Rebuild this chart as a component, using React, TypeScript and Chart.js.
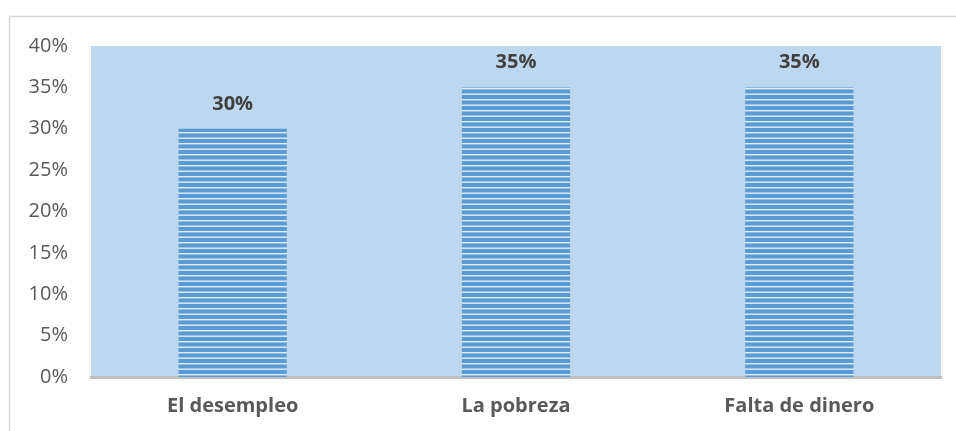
import React, { useEffect, useRef } from "react";
import { Chart, registerables } from "chart.js";

Chart.register(...registerables);

const categories = ["El desempleo", "La pobreza", "Falta de dinero"];
const values = [0.3, 0.35, 0.35];
const labels = ["30%", "35%", "35%"];
const yTicks = ["0%", "5%", "10%", "15%", "20%", "25%", "30%", "35%", "40%"];

function makePattern(): CanvasPattern | string {
  const c = document.createElement("canvas");
  c.width = 4;
  c.height = 11;
  const g = c.getContext("2d");
  if (!g) return "#5B9BD5";
  g.fillStyle = "#5B9BD5";
  g.fillRect(0, 0, 4, 11);
  g.fillStyle = "#E2EDF8";
  g.fillRect(0, 0, 4, 1.4);
  g.fillRect(0, 5.5, 4, 1.4);
  const p = g.createPattern(c, "repeat");
  return p || "#5B9BD5";
}

const bgPlugin = {
  id: "bgPlugin",
  beforeDraw(chart: any) {
    const { ctx, chartArea } = chart;
    ctx.save();
    ctx.fillStyle = "#ffffff";
    ctx.fillRect(0, 0, chart.width, chart.height);
    ctx.strokeStyle = "#D9D9D9";
    ctx.lineWidth = 1.5;
    ctx.beginPath();
    ctx.moveTo(9.5, chart.height);
    ctx.lineTo(9.5, 16.5);
    ctx.lineTo(chart.width, 16.5);
    ctx.stroke();
    ctx.fillStyle = "#BDD7EE";
    ctx.fillRect(chartArea.left, chartArea.top, chartArea.right - chartArea.left, chartArea.bottom - chartArea.top);
    ctx.restore();
  },
};

const labelPlugin = {
  id: "labelPlugin",
  afterDatasetsDraw(chart: any) {
    const { ctx } = chart;
    const meta = chart.getDatasetMeta(0);
    ctx.save();
    ctx.font = "bold 20px 'Open Sans'";
    ctx.fillStyle = "#404040";
    ctx.textAlign = "center";
    ctx.textBaseline = "alphabetic";
    meta.data.forEach((bar: any, i: number) => {
      ctx.fillText(labels[i], bar.x, bar.y - 19);
    });
    ctx.restore();
  },
};

export default function App() {
  const ref = useRef<HTMLCanvasElement>(null);
  useEffect(() => {
    document.body.style.margin = "0";
    if (!ref.current) return;
    const chart = new Chart(ref.current, {
      type: "bar",
      data: {
        labels: categories,
        datasets: [
          {
            data: values,
            backgroundColor: makePattern() as any,
            borderWidth: 0,
            categoryPercentage: 1,
            barPercentage: 0.382,
          },
        ],
      },
      options: {
        animation: false,
        responsive: false,
        maintainAspectRatio: false,
        layout: { padding: { left: 0, right: 15, top: 46, bottom: 0 } },
        plugins: { legend: { display: false }, tooltip: { enabled: false }, title: { display: false } },
        scales: {
          x: {
            grid: { display: false, drawTicks: false },
            border: { display: true, color: "#BFBFBF", width: 3 },
            ticks: {
              color: "#595959",
              font: { family: "'Open Sans'", size: 20, weight: "bold" },
              padding: 17,
              maxRotation: 0,
            },
            afterFit: (s: any) => {
              s.height = 54;
            },
          },
          y: {
            min: 0,
            max: 0.4,
            grid: { display: false, drawTicks: false },
            border: { display: false },
            ticks: {
              stepSize: 0.05,
              color: "#595959",
              font: { family: "'Open Sans'", size: 20 },
              padding: 23,
              callback: (_v: any, i: number) => yTicks[i],
            },
            afterFit: (s: any) => {
              s.width = 91;
            },
          },
        },
      },
      plugins: [bgPlugin, labelPlugin],
    });
    return () => chart.destroy();
  }, []);
  return <canvas ref={ref} width={956} height={431} style={{ display: "block" }} />;
}
